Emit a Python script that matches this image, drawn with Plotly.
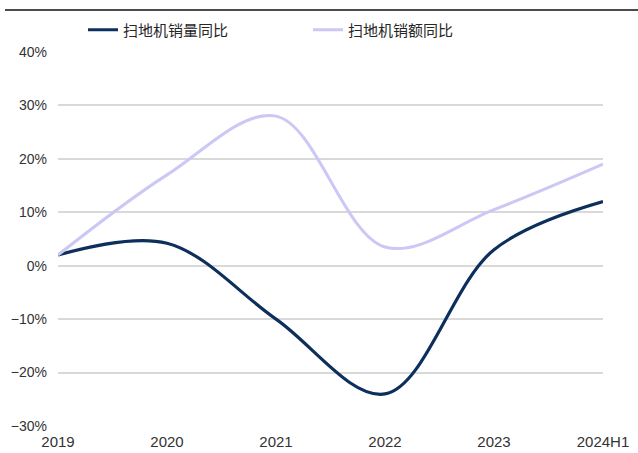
import plotly.graph_objects as go

# Year-over-year growth of robot vacuum sales (%)
periods = ["2019", "2020", "2021", "2022", "2023", "2024H1"]
volume_yoy = [2.0, 4.2, -10.0, -24.0, 3.0, 12.0]
value_yoy = [2.0, 17.0, 28.0, 3.5, 10.5, 19.0]
y_ticks = [-30, -20, -10, 0, 10, 20, 30, 40]
y_tick_text = [f"{v}%".replace("-", "\u2212") for v in y_ticks]

fig = go.Figure()
fig.add_trace(go.Scatter(
    x=list(range(len(periods))), y=volume_yoy, name="扫地机销量同比",
    mode="lines", line=dict(color="#0c2f5c", width=3.2, shape="spline", smoothing=1.0),
))
fig.add_trace(go.Scatter(
    x=list(range(len(periods))), y=value_yoy, name="扫地机销额同比",
    mode="lines", line=dict(color="#cbc8f6", width=3, shape="spline", smoothing=1.0),
))

fig.update_layout(
    width=638, height=453,
    margin=dict(l=58, r=35, t=52, b=27, autoexpand=False),
    paper_bgcolor="white", plot_bgcolor="white",
    font=dict(family="Liberation Sans, Arial, sans-serif", size=14, color="#333333"),
    showlegend=True,
    legend=dict(
        orientation="h", x=(83 - 58) / 545, xanchor="left",
        y=1 + (52 - 30) / 374, yanchor="middle",
        font=dict(family="Noto Sans CJK SC", size=15, color="#262626"),
        entrywidth=180, entrywidthmode="pixels",
        bgcolor="rgba(0,0,0,0)",
    ),
    xaxis=dict(
        range=[0, len(periods) - 1], automargin=False,
        tickmode="array", tickvals=list(range(len(periods))), ticktext=periods,
        showgrid=False, zeroline=False, showline=False, ticks="",
        tickfont=dict(size=15, color="#333333"), ticklabelstandoff=5,
    ),
    yaxis=dict(
        range=[-30, 40], automargin=False,
        tickmode="array", tickvals=y_ticks, ticktext=y_tick_text,
        showgrid=True, gridcolor="#d9d9d9", gridwidth=1.5,
        zeroline=False, showline=False, ticks="",
        tickfont=dict(size=14, color="#333333"), ticklabelstandoff=10,
    ),
    shapes=[dict(
        type="line", xref="paper", yref="paper",
        x0=(5 - 58) / 545, x1=(638 - 58) / 545,
        y0=1 + (52 - 10) / 374, y1=1 + (52 - 10) / 374,
        line=dict(color="#111111", width=1.5),
    )],
)

fig.write_html("out.html")
